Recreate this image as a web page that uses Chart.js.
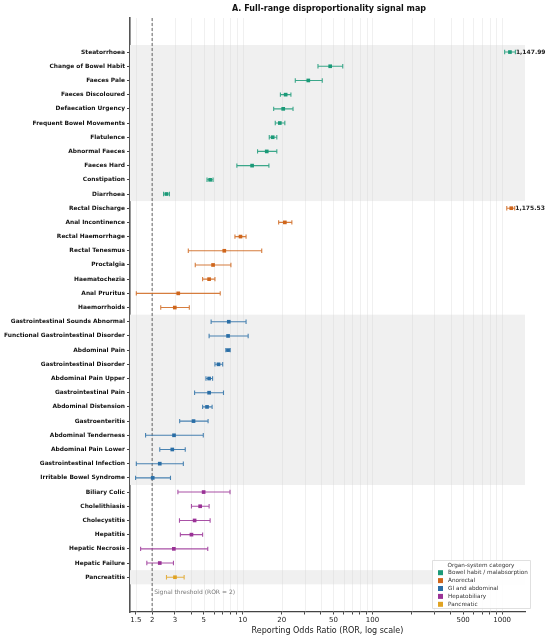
<!DOCTYPE html>
<html><head><meta charset="utf-8">
<script src="https://cdn.jsdelivr.net/npm/chart.js@4.4.1/dist/chart.umd.min.js"></script>
<style>html,body{margin:0;padding:0;background:#fff}#wrap{width:550px;height:636px}</style>
</head><body><div id="wrap"><canvas id="c" width="550" height="636"></canvas></div>
<script>
// ---- DATA ----
const groupNames = ["Bowel habit / malabsorption","Anorectal","GI and abdominal","Hepatobiliary","Pancreatic"];
const groupColors = ["#1b9a78","#cf661c","#2a6ea6","#9a3296","#e0a323"];

const bowelTerms = ["Steatorrhoea","Change of Bowel Habit","Faeces Pale","Faeces Discoloured","Defaecation Urgency","Frequent Bowel Movements","Flatulence","Abnormal Faeces","Faeces Hard","Constipation","Diarrhoea"];
const bowelROR = [1147.99,47.2,32.0,21.4,20.5,19.3,17.0,15.3,11.8,5.6,2.58];
const bowelLo  = [1045,38,25.4,19.5,17.3,17.8,16.0,13.0,9.0,5.3,2.45];
const bowelHi  = [1265,59,41,23.5,24.4,21.1,18.3,18.3,15.9,5.9,2.72];

const anoTerms = ["Rectal Discharge","Anal Incontinence","Rectal Haemorrhage","Rectal Tenesmus","Proctalgia","Haematochezia","Anal Pruritus","Haemorrhoids"];
const anoROR = [1175.53,21.1,9.6,7.2,5.9,5.5,3.18,2.99];
const anoLo  = [1085,18.9,8.7,3.8,4.3,4.9,1.51,2.33];
const anoHi  = [1250,23.9,10.6,14.0,8.1,6.1,6.7,3.87];

const giTerms = ["Gastrointestinal Sounds Abnormal","Functional Gastrointestinal Disorder","Abdominal Pain","Gastrointestinal Disorder","Abdominal Pain Upper","Gastrointestinal Pain","Abdominal Distension","Gastroenteritis","Abdominal Tenderness","Abdominal Pain Lower","Gastrointestinal Infection","Irritable Bowel Syndrome"];
const giROR = [7.8,7.7,7.7,6.5,5.5,5.5,5.3,4.17,2.95,2.86,2.29,2.02];
const giLo  = [5.7,5.5,7.4,6.1,5.2,4.25,4.9,3.26,1.78,2.29,1.51,1.49];
const giHi  = [10.6,11.0,8.0,7.0,5.85,7.1,5.8,5.4,4.96,3.6,3.48,2.77];

const hepTerms = ["Biliary Colic","Cholelithiasis","Cholecystitis","Hepatitis","Hepatic Necrosis","Hepatic Failure"];
const hepROR = [4.99,4.69,4.25,4.02,2.94,2.29];
const hepLo  = [3.16,4.02,3.25,3.3,1.63,1.82];
const hepHi  = [7.97,5.5,5.6,4.9,5.37,2.92];

const panTerms = ["Pancreatitis"];
const panROR = [3.0];
const panLo  = [2.58];
const panHi  = [3.53];

const xTickValues = [1.5,2,3,4,5,6,7,8,9,10,20,30,40,50,60,70,80,90,100,200,300,400,500,600,700,800,900,1000];
const xTickLabels = [1.5,2,3,5,10,20,50,100,500,1000];
const threshold = 2;
const labelledTerms = ["Steatorrhoea","Rectal Discharge"];

// ---- BUILD ----
const groups = [
  {terms:bowelTerms, ror:bowelROR, lo:bowelLo, hi:bowelHi, shade:true},
  {terms:anoTerms, ror:anoROR, lo:anoLo, hi:anoHi, shade:false},
  {terms:giTerms, ror:giROR, lo:giLo, hi:giHi, shade:true},
  {terms:hepTerms, ror:hepROR, lo:hepLo, hi:hepHi, shade:false},
  {terms:panTerms, ror:panROR, lo:panLo, hi:panHi, shade:true}
];
const allTerms = [];
let off = 0;
groups.forEach(g => { g.start = off; g.terms.forEach(t => allTerms.push(t)); off += g.terms.length; });

const datasets = groups.map((g, gi) => ({
  label: groupNames[gi],
  data: g.terms.map((t, i) => ({x: g.ror[i], y: g.start + i, lo: g.lo[i], hi: g.hi[i], term: t})),
  backgroundColor: groupColors[gi],
  borderColor: groupColors[gi],
  pointStyle: 'rect',
  pointRadius: 2.6,
  pointHoverRadius: 2.6,
  borderWidth: 0
}));

const FONT = "'DejaVu Sans', sans-serif";

const decor = {
  id: 'decor',
  beforeDatasetsDraw(chart) {
    const {ctx, chartArea: a, scales: {x, y}} = chart;
    ctx.save();
    groups.forEach(g => {
      if (!g.shade) return;
      const y0 = y.getPixelForValue(g.start - 0.5);
      const y1 = y.getPixelForValue(g.start + g.terms.length - 0.5);
      ctx.fillStyle = '#f0f0f0';
      ctx.fillRect(a.left, y0, a.right - a.left, y1 - y0);
    });
    ctx.strokeStyle = 'rgba(210,210,210,0.55)';
    ctx.lineWidth = 0.6;
    xTickValues.forEach(v => {
      const px = Math.round(x.getPixelForValue(v)) + 0.5;
      ctx.beginPath(); ctx.moveTo(px, a.top); ctx.lineTo(px, a.bottom); ctx.stroke();
    });
    const tx = x.getPixelForValue(threshold);
    ctx.strokeStyle = '#555';
    ctx.lineWidth = 0.9;
    ctx.setLineDash([3, 2]);
    ctx.beginPath(); ctx.moveTo(tx, a.top); ctx.lineTo(tx, a.bottom); ctx.stroke();
    ctx.setLineDash([]);
    ctx.fillStyle = '#777';
    ctx.font = "6px " + FONT;
    ctx.textBaseline = 'middle';
    ctx.textAlign = 'left';
    ctx.fillText('Signal threshold (ROR = 2)', tx + 2, y.getPixelForValue(38.05));
    datasets.forEach((ds, di) => {
      ctx.strokeStyle = groupColors[di];
      ctx.globalAlpha = 0.85;
      ctx.lineWidth = 1.1;
      ds.data.forEach(p => {
        const py = y.getPixelForValue(p.y);
        const xl = x.getPixelForValue(p.lo), xh = x.getPixelForValue(p.hi);
        ctx.beginPath();
        ctx.moveTo(xl, py); ctx.lineTo(xh, py);
        ctx.moveTo(xl, py - 2.2); ctx.lineTo(xl, py + 2.2);
        ctx.moveTo(xh, py - 2.2); ctx.lineTo(xh, py + 2.2);
        ctx.stroke();
      });
      ctx.globalAlpha = 1;
    });
    ctx.restore();
  },
  afterDraw(chart) {
    const {ctx, chartArea: a, scales: {x, y}} = chart;
    ctx.save();
    ctx.font = "bold 6px " + FONT;
    ctx.fillStyle = '#222';
    ctx.textBaseline = 'middle';
    ctx.textAlign = 'left';
    datasets.forEach(ds => ds.data.forEach(p => {
      if (labelledTerms.includes(p.term)) {
        const s = p.x.toLocaleString('en-US', {minimumFractionDigits: 2, maximumFractionDigits: 2});
        ctx.fillText(s, x.getPixelForValue(p.hi) + 0.5, y.getPixelForValue(p.y));
      }
    }));
    ctx.font = "bold 8px " + FONT;
    ctx.fillStyle = '#111';
    ctx.textAlign = 'center';
    ctx.fillText('A. Full-range disproportionality signal map', (a.left + a.right) / 2 + 1.5, 8.5);
    const lx = 432, ly = 560, lw = 98, lh = 48;
    ctx.fillStyle = 'rgba(255,255,255,0.9)';
    ctx.strokeStyle = '#d8d8d8';
    ctx.lineWidth = 0.8;
    ctx.beginPath(); ctx.rect(lx + 0.5, ly + 0.5, lw, lh); ctx.fill(); ctx.stroke();
    ctx.fillStyle = '#333';
    ctx.font = "5.7px " + FONT;
    ctx.textAlign = 'center';
    ctx.fillText('Organ-system category', lx + lw / 2, ly + 5.5);
    ctx.textAlign = 'left';
    groupNames.forEach((n, i) => {
      const yy = ly + 12.8 + i * 7.9;
      ctx.fillStyle = groupColors[i];
      ctx.fillRect(lx + 6, yy - 2.6, 5, 5);
      ctx.fillStyle = '#333';
      ctx.fillText(n, lx + 16, yy);
    });
    ctx.restore();
  }
};

new Chart(document.getElementById('c'), {
  type: 'scatter',
  data: {datasets},
  options: {
    responsive: false,
    animation: false,
    devicePixelRatio: 1,
    layout: {padding: {top: 18, right: 25, left: 0, bottom: 0}},
    plugins: {legend: {display: false}, tooltip: {enabled: false}, title: {display: false}},
    scales: {
      x: {
        type: 'logarithmic',
        min: 1.35, max: 1500,
        afterBuildTicks: s => { s.ticks = xTickValues.map(v => ({value: v})); },
        afterFit: s => { s.height = 24; },
        ticks: {
          autoSkip: false, maxRotation: 0, padding: 1,
          font: {family: FONT, size: 7}, color: '#222',
          callback: v => xTickLabels.includes(v) ? String(v) : ''
        },
        grid: {display: true, drawOnChartArea: false, drawTicks: true, tickLength: 2.5, color: '#444'},
        border: {display: true, color: '#444', width: 1.2},
        title: {display: true, text: 'Reporting Odds Ratio (ROR, log scale)', font: {family: FONT, size: 8}, color: '#222', padding: {top: 0, bottom: 0}}
      },
      y: {
        type: 'linear',
        reverse: true,
        min: -2.4, max: 39.45,
        afterBuildTicks: s => { s.ticks = allTerms.map((t, i) => ({value: i})); },
        afterFit: s => { s.width = 130; },
        ticks: {
          autoSkip: false, padding: 2,
          font: {family: FONT, size: 5.9, weight: 'bold'}, color: '#111',
          callback: v => allTerms[v] ?? ''
        },
        grid: {display: true, drawOnChartArea: false, drawTicks: true, tickLength: 3, color: '#444'},
        border: {display: true, color: '#555', width: 1.6}
      }
    }
  },
  plugins: [decor]
});
</script>
</body></html>
